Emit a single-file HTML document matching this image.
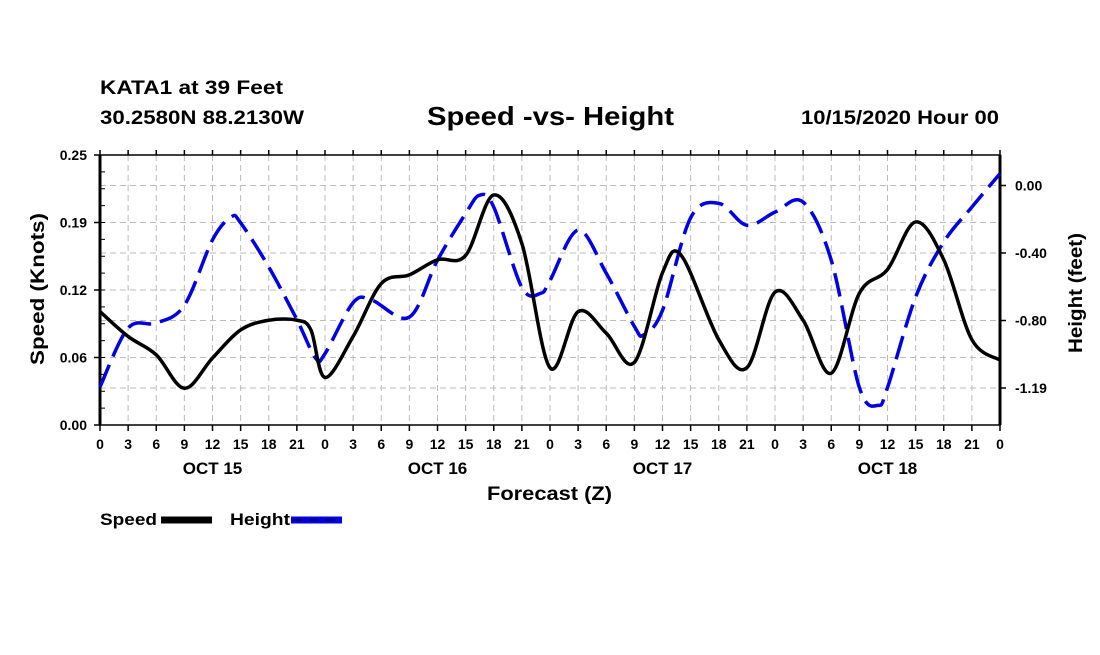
<!DOCTYPE html>
<html><head><meta charset="utf-8"><style>
body{margin:0;background:#fff;font-family:"Liberation Sans",sans-serif}
svg text{font-family:"Liberation Sans",sans-serif;font-weight:bold}
</style></head><body>
<svg id="chart" width="1100" height="650">
<text x="100" y="94" font-size="19" textLength="183" lengthAdjust="spacingAndGlyphs">KATA1 at 39 Feet</text>
<text x="100" y="124" font-size="19" textLength="204" lengthAdjust="spacingAndGlyphs">30.2580N 88.2130W</text>
<text x="427" y="125" font-size="26" textLength="247" lengthAdjust="spacingAndGlyphs">Speed -vs- Height</text>
<text x="801" y="124" font-size="19" textLength="198" lengthAdjust="spacingAndGlyphs">10/15/2020 Hour 00</text>
<g id="grid"></g><g id="axes"></g><g id="series"></g>
<text transform="translate(44,289) rotate(-90)" x="-76" font-size="19" textLength="152" lengthAdjust="spacingAndGlyphs">Speed (Knots)</text>
<text transform="translate(1082,293) rotate(-90)" x="-60" font-size="19" textLength="120" lengthAdjust="spacingAndGlyphs">Height (feet)</text>
<text x="487" y="500" font-size="19" textLength="125" lengthAdjust="spacingAndGlyphs">Forecast (Z)</text>
<g>
<text x="100" y="525" font-size="17" textLength="57" lengthAdjust="spacingAndGlyphs">Speed</text>
<line x1="161" y1="520" x2="212" y2="520" stroke="#000" stroke-width="7"/>
<text x="230" y="525" font-size="17" textLength="60" lengthAdjust="spacingAndGlyphs">Height</text>
<line x1="291" y1="520" x2="342" y2="520" stroke="#0000e0" stroke-width="7"/>
<line x1="293" y1="520" x2="342" y2="520" stroke="#000080" stroke-width="2" stroke-dasharray="10,6"/>
</g>
</svg>
<script>
const speedHours=[0,3,6,9,12,15,18,21,22.5,24,27,30,33,36,39,42,45,48,51,54,57,60,62,66,69,72,75,78,81,84,87,90,93,96];
const speedValues=[0.105,0.082,0.065,0.034,0.062,0.088,0.097,0.097,0.088,0.044,0.082,0.131,0.139,0.153,0.157,0.213,0.168,0.053,0.105,0.085,0.058,0.141,0.157,0.079,0.053,0.123,0.097,0.048,0.122,0.144,0.188,0.153,0.079,0.060];
const heightHours=[0,3,6,9,12,14,15,18,21,23,24,27,29,33,36,39,40.5,42,45,47,48,51,54,57,58,60,63,66,69,72,75,78,81,83,84,87,90,93,96];
const heightValues=[-1.186,-0.84,-0.81,-0.705,-0.32,-0.185,-0.22,-0.48,-0.79,-1.017,-0.99,-0.69,-0.675,-0.775,-0.44,-0.165,-0.057,-0.127,-0.60,-0.635,-0.56,-0.263,-0.517,-0.83,-0.88,-0.735,-0.19,-0.105,-0.234,-0.157,-0.098,-0.44,-1.19,-1.295,-1.19,-0.657,-0.333,-0.127,0.07];
const leftTicks=["0.00","0.06","0.12","0.19","0.25"];
const leftTickValues=[0,0.0625,0.125,0.1875,0.25];
const rightTicks=["0.00","-0.40","-0.80","-1.19"];
const rightTickValues=[0,-0.3975,-0.795,-1.1925];
const hourLabels=["0","3","6","9","12","15","18","21"];
const dayLabels=["OCT 15","OCT 16","OCT 17","OCT 18"];
const X0=100,X1=1000,Y0=155,Y1=425;
const xs=h=>X0+h*(X1-X0)/96;
const ySpeed=v=>Y1-v/0.25*(Y1-Y0);
const yHeight=f=>185.5-f/0.3975*67.5;
const NS="http://www.w3.org/2000/svg";
function mk(tag,attrs,parent){const e=document.createElementNS(NS,tag);for(const k in attrs)e.setAttribute(k,attrs[k]);parent.appendChild(e);return e;}
const grid=document.getElementById('grid'),axes=document.getElementById('axes'),series=document.getElementById('series');
for(let h=0;h<=96;h+=3){
 const x=xs(h);
 const g=mk('line',{x1:x,y1:Y0,x2:x,y2:Y1,stroke:'#bbb','stroke-dasharray':'6,4'},grid);
 
 
 mk('line',{x1:x,y1:Y1,x2:x,y2:Y1+6,stroke:'#000','stroke-width':1.5},axes);
 mk('line',{x1:x,y1:Y0,x2:x,y2:Y0-5,stroke:'#000','stroke-width':1.5},axes);
 const t=mk('text',{x:x,y:449,'font-size':14,'text-anchor':'middle'},axes);
 t.textContent=hourLabels[(h/3)%8];
 
 
}
dayLabels.forEach((d,i)=>{const t=mk('text',{x:xs(12+24*i),y:474,'font-size':17,'text-anchor':'middle'},axes);t.textContent=d;
 
 });
leftTickValues.forEach((v,i)=>{const y=ySpeed(v);
 if(i>0&&i<4){const g=mk('line',{x1:X0,y1:y,x2:X1,y2:y,stroke:'#bbb','stroke-dasharray':'6,4'},grid);
 
 }
 mk('line',{x1:X0-6,y1:y,x2:X0,y2:y,stroke:'#000','stroke-width':1.5},axes);
 const t=mk('text',{x:X0-13,y:y+5,'font-size':14,'text-anchor':'end'},axes);t.textContent=leftTicks[i];
 
 });
for(let v=0;v<=0.25;v+=0.25/16){mk('line',{x1:X0,y1:ySpeed(v),x2:X0+5,y2:ySpeed(v),stroke:'#000','stroke-width':1},axes);}
rightTickValues.forEach((v,i)=>{const y=yHeight(v);
 const g=mk('line',{x1:X0,y1:y,x2:X1,y2:y,stroke:'#bbb','stroke-dasharray':'6,4'},grid);
 
 
 mk('line',{x1:X1,y1:y,x2:X1+6,y2:y,stroke:'#000','stroke-width':1.5},axes);
 const t=mk('text',{x:1015,y:y+5,'font-size':14},axes);t.textContent=rightTicks[i];
 
 });
mk('rect',{x:X0,y:Y0,width:X1-X0,height:Y1-Y0,fill:'none',stroke:'#000','stroke-width':1.5},axes);
mk('line',{x1:X0,y1:Y0,x2:X0,y2:Y1,stroke:'#000','stroke-width':3},axes);
mk('line',{x1:X1,y1:Y0,x2:X1,y2:Y1,stroke:'#000','stroke-width':3},axes);
function smooth(pts){let d=`M${pts[0][0]},${pts[0][1]}`;
 for(let i=0;i<pts.length-1;i++){const p0=pts[Math.max(0,i-1)],p1=pts[i],p2=pts[i+1],p3=pts[Math.min(pts.length-1,i+2)];
 const c1=[p1[0]+(p2[0]-p0[0])/6,p1[1]+(p2[1]-p0[1])/6],c2=[p2[0]-(p3[0]-p1[0])/6,p2[1]-(p3[1]-p1[1])/6];
 d+=` C${c1[0]},${c1[1]} ${c2[0]},${c2[1]} ${p2[0]},${p2[1]}`;}return d;}
const hp=mk('path',{d:smooth(heightHours.map((h,i)=>[xs(h),yHeight(heightValues[i])])),fill:'none',stroke:'#0000e0','stroke-width':3.5,'stroke-dasharray':'24,9'},series);


const sp=mk('path',{d:smooth(speedHours.map((h,i)=>[xs(h),ySpeed(speedValues[i])])),fill:'none',stroke:'#000','stroke-width':3.5},series);


</script>
</body></html>
